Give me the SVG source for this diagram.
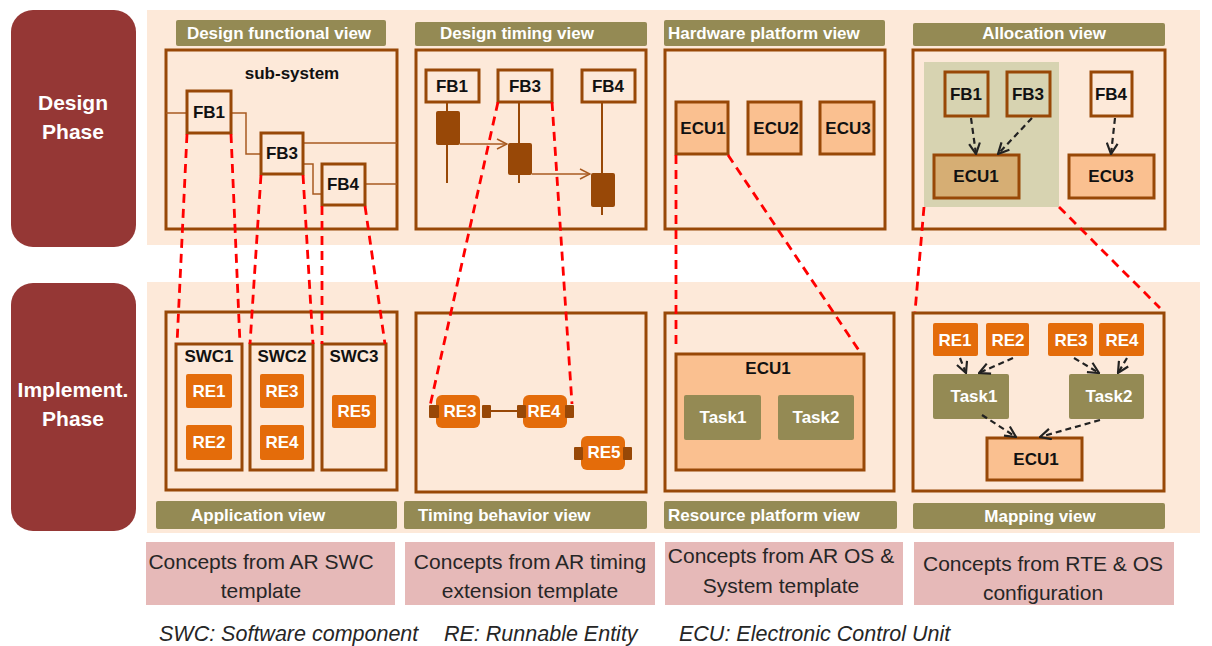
<svg xmlns="http://www.w3.org/2000/svg" width="1212" height="646" viewBox="0 0 1212 646">
<defs>
<style>
text{font-family:"Liberation Sans",Arial,sans-serif}
.phase{fill:#953735}
.phtxt{fill:#fff;font-weight:bold;font-size:21px;text-anchor:middle}
.band{fill:#FDE9D9}
.bar{fill:#948A54}
.bartxt{fill:#fff;font-weight:bold;font-size:17px}
.panel{fill:none;stroke:#984807;stroke-width:3}
.box{fill:#FDE9D9;stroke:#984807;stroke-width:3}
.ecu{fill:#FAC090;stroke:#984807;stroke-width:3}
.re{fill:#E46C0A}
.task{fill:#948A54}
.port{fill:#984807}
.bk{fill:#111;font-weight:bold;font-size:17px;text-anchor:middle}
.wt{fill:#fff;font-weight:bold;font-size:17px;text-anchor:middle}
.wire{fill:none;stroke:#A85A20;stroke-width:1.5}
.red{stroke:#FF0000;stroke-width:2.8;stroke-dasharray:9 6;fill:none}
.blk{stroke:#222;stroke-width:2.2;stroke-dasharray:6 4;fill:none;marker-end:url(#open)}
.concept{fill:#E6B9B8}
.ctxt{fill:#262626;font-size:21px;text-anchor:middle}
.legend{fill:#262626;font-size:21.5px;font-style:italic}
</style>
<marker id="open" viewBox="0 0 12 12" refX="11" refY="6" markerWidth="13" markerHeight="13" markerUnits="userSpaceOnUse" orient="auto">
<path d="M1,1 L11,6 L1,11" fill="none" stroke="#222" stroke-width="2"/>
</marker>
<marker id="msg" viewBox="0 0 12 12" refX="11" refY="6" markerWidth="12" markerHeight="12" markerUnits="userSpaceOnUse" orient="auto">
<path d="M1,1 L11,6 L1,11" fill="none" stroke="#A85A20" stroke-width="1.5"/>
</marker>
</defs>
<rect width="1212" height="646" fill="#fff"/>

<g id="phase-design">
<rect class="phase" x="11" y="10" width="125" height="237" rx="22"/>
<text class="phtxt" x="73" y="110">Design</text>
<text class="phtxt" x="73" y="139">Phase</text>
</g>
<g id="phase-implement">
<rect class="phase" x="11" y="283" width="125" height="248" rx="22"/>
<text class="phtxt" x="73" y="397">Implement.</text>
<text class="phtxt" x="73" y="426">Phase</text>
</g>

<rect class="band" x="147" y="10" width="1053" height="235"/>
<rect class="band" x="147" y="282" width="1053" height="251"/>

<!-- Design functional view -->
<g id="design-functional-view">
<rect class="bar" x="176" y="20" width="210" height="26" rx="2"/>
<text class="bartxt" x="279" y="39" text-anchor="middle">Design functional view</text>
<rect class="panel" x="166" y="50" width="231" height="179"/>
<text class="bk" x="292" y="79">sub-system</text>
<path class="wire" d="M166,113 H187 M231,113 H246 V154 H261 M303,143 H397 M303,164 H313 V194 H322 M365,184 H397"/>
<g id="f-fb1"><rect class="box" x="187" y="91" width="44" height="42"/><text class="bk" x="209" y="118">FB1</text></g>
<g id="f-fb3"><rect class="box" x="261" y="133" width="42" height="41"/><text class="bk" x="282" y="159">FB3</text></g>
<g id="f-fb4"><rect class="box" x="322" y="164" width="43" height="41"/><text class="bk" x="343" y="190">FB4</text></g>
</g>

<!-- Design timing view -->
<g id="design-timing-view">
<rect class="bar" x="415" y="22" width="232" height="24" rx="2"/>
<text class="bartxt" x="440" y="39">Design timing view</text>
<rect class="panel" x="416" y="50" width="230" height="179"/>
<g stroke="#984807" stroke-width="2">
<line x1="447" y1="102" x2="447" y2="183"/>
<line x1="519" y1="102" x2="519" y2="183"/>
<line x1="602" y1="102" x2="602" y2="215"/>
</g>
<rect class="port" x="436" y="111" width="24" height="34" rx="2"/>
<rect class="port" x="508" y="143" width="24" height="32" rx="2"/>
<rect class="port" x="591" y="173" width="24" height="34" rx="2"/>
<line x1="460" y1="144" x2="507" y2="144" stroke="#A85A20" stroke-width="1.5" marker-end="url(#msg)"/>
<line x1="532" y1="174" x2="590" y2="174" stroke="#A85A20" stroke-width="1.5" marker-end="url(#msg)"/>
<g id="t-fb1"><rect class="box" x="426" y="70" width="53" height="32"/><text class="bk" x="452" y="92">FB1</text></g>
<g id="t-fb3"><rect class="box" x="498" y="70" width="54" height="32"/><text class="bk" x="525" y="92">FB3</text></g>
<g id="t-fb4"><rect class="box" x="582" y="70" width="53" height="32"/><text class="bk" x="608" y="92">FB4</text></g>
</g>

<!-- Hardware platform view -->
<g id="hardware-platform-view">
<rect class="bar" x="664" y="20" width="221" height="26" rx="2"/>
<text class="bartxt" x="668" y="39">Hardware platform view</text>
<rect class="panel" x="665" y="50" width="220" height="179"/>
<g id="h-ecu1"><rect class="ecu" x="676" y="102" width="52" height="52"/><text class="bk" x="703" y="134">ECU1</text></g>
<g id="h-ecu2"><rect class="ecu" x="748" y="102" width="53" height="52"/><text class="bk" x="776" y="134">ECU2</text></g>
<g id="h-ecu3"><rect class="ecu" x="820" y="102" width="54" height="52"/><text class="bk" x="848" y="134">ECU3</text></g>
</g>

<!-- Allocation view -->
<g id="allocation-view">
<rect class="bar" x="913" y="23" width="252" height="23" rx="2"/>
<text class="bartxt" x="1044" y="39" text-anchor="middle">Allocation view</text>
<rect class="panel" x="913" y="50" width="252" height="179"/>
<rect x="924" y="62" width="135" height="145" fill="#D7D3B1"/>
<g id="a-fb1"><rect x="945" y="72" width="43" height="44" fill="#D7D3B1" stroke="#984807" stroke-width="3"/><text class="bk" x="966" y="100">FB1</text></g>
<g id="a-fb3"><rect x="1007" y="72" width="43" height="44" fill="#D7D3B1" stroke="#984807" stroke-width="3"/><text class="bk" x="1028" y="100">FB3</text></g>
<g id="a-fb4"><rect class="box" x="1091" y="72" width="41" height="44"/><text class="bk" x="1111" y="100">FB4</text></g>
<g id="a-ecu1"><rect x="934" y="155" width="85" height="43" fill="#D6AE74" stroke="#984807" stroke-width="3"/><text class="bk" x="976" y="182">ECU1</text></g>
<g id="a-ecu3"><rect class="ecu" x="1069" y="155" width="85" height="43"/><text class="bk" x="1111" y="182">ECU3</text></g>
</g>

<!-- Application view -->
<g id="application-view">
<rect class="panel" x="166" y="312" width="231" height="178"/>
<rect class="bar" x="156" y="501" width="241" height="28" rx="2"/>
<text class="bartxt" x="191" y="521">Application view</text>
<g id="swc1"><rect class="panel" x="176" y="344" width="66" height="126"/><text class="bk" x="209" y="362">SWC1</text></g>
<g id="swc2"><rect class="panel" x="250" y="344" width="63" height="126"/><text class="bk" x="282" y="362">SWC2</text></g>
<g id="swc3"><rect class="panel" x="322" y="344" width="64" height="126"/><text class="bk" x="354" y="362">SWC3</text></g>
<g id="ap-re1"><rect class="re" x="186" y="374" width="46" height="34" rx="2"/><text class="wt" x="209" y="397">RE1</text></g>
<g id="ap-re2"><rect class="re" x="186" y="425" width="46" height="35" rx="2"/><text class="wt" x="209" y="448">RE2</text></g>
<g id="ap-re3"><rect class="re" x="260" y="374" width="44" height="34" rx="2"/><text class="wt" x="282" y="397">RE3</text></g>
<g id="ap-re4"><rect class="re" x="260" y="425" width="44" height="35" rx="2"/><text class="wt" x="282" y="448">RE4</text></g>
<g id="ap-re5"><rect class="re" x="332" y="395" width="44" height="33" rx="2"/><text class="wt" x="354" y="417">RE5</text></g>
</g>

<!-- Timing behavior view -->
<g id="timing-behavior-view">
<rect class="panel" x="416" y="313" width="230" height="179"/>
<rect class="bar" x="404" y="501" width="243" height="28" rx="2"/>
<text class="bartxt" x="418" y="521">Timing behavior view</text>
<line x1="491" y1="411" x2="518" y2="411" stroke="#984807" stroke-width="2"/>
<g id="tb-re3"><rect class="re" x="436" y="395" width="44" height="33" rx="6"/><rect class="port" x="429" y="405" width="10" height="13" rx="1"/><rect class="port" x="482" y="405" width="9" height="13" rx="1"/><text class="wt" x="460" y="417">RE3</text></g>
<g id="tb-re4"><rect class="re" x="523" y="395" width="44" height="33" rx="6"/><rect class="port" x="517" y="405" width="9" height="13" rx="1"/><rect class="port" x="565" y="405" width="9" height="13" rx="1"/><text class="wt" x="544" y="417">RE4</text></g>
<g id="tb-re5"><rect class="re" x="581" y="436" width="44" height="34" rx="6"/><rect class="port" x="574" y="447" width="9" height="13" rx="1"/><rect class="port" x="623" y="447" width="9" height="13" rx="1"/><text class="wt" x="604" y="458">RE5</text></g>
</g>

<!-- Resource platform view -->
<g id="resource-platform-view">
<rect class="panel" x="665" y="313" width="229" height="178"/>
<rect class="bar" x="664" y="501" width="233" height="28" rx="2"/>
<text class="bartxt" x="668" y="521">Resource platform view</text>
<g id="r-ecu1"><rect class="ecu" x="676" y="354" width="188" height="116"/><text class="bk" x="768" y="374">ECU1</text></g>
<g id="r-task1"><rect class="task" x="684" y="395" width="77" height="45" rx="2"/><text class="wt" x="723" y="423">Task1</text></g>
<g id="r-task2"><rect class="task" x="778" y="395" width="76" height="45" rx="2"/><text class="wt" x="816" y="423">Task2</text></g>
</g>

<!-- Mapping view -->
<g id="mapping-view">
<rect class="panel" x="913" y="313" width="251" height="178"/>
<rect class="bar" x="913" y="503" width="252" height="26" rx="2"/>
<text class="bartxt" x="1040" y="522" text-anchor="middle">Mapping view</text>
<g id="m-re1"><rect class="re" x="933" y="323" width="45" height="33" rx="2"/><text class="wt" x="955" y="346">RE1</text></g>
<g id="m-re2"><rect class="re" x="986" y="323" width="43" height="33" rx="2"/><text class="wt" x="1008" y="346">RE2</text></g>
<g id="m-re3"><rect class="re" x="1048" y="323" width="45" height="33" rx="2"/><text class="wt" x="1071" y="346">RE3</text></g>
<g id="m-re4"><rect class="re" x="1099" y="323" width="45" height="33" rx="2"/><text class="wt" x="1122" y="346">RE4</text></g>
<g id="m-task1"><rect class="task" x="933" y="374" width="76" height="45" rx="2"/><text class="wt" x="974" y="402">Task1</text></g>
<g id="m-task2"><rect class="task" x="1069" y="374" width="75" height="45" rx="2"/><text class="wt" x="1109" y="402">Task2</text></g>
<g id="m-ecu1"><rect class="ecu" x="987" y="438" width="95" height="42"/><text class="bk" x="1036" y="465">ECU1</text></g>
</g>

<!-- Connectors -->
<g id="connectors">
<line class="blk" x1="971" y1="118" x2="976" y2="154"/>
<line class="blk" x1="1032" y1="118" x2="998" y2="154"/>
<line class="blk" x1="1115" y1="118" x2="1111" y2="154"/>
<line class="blk" x1="960" y1="358" x2="966" y2="373"/>
<line class="blk" x1="1013" y1="358" x2="979" y2="373"/>
<line class="blk" x1="1074" y1="358" x2="1099" y2="373"/>
<line class="blk" x1="1127" y1="358" x2="1118" y2="373"/>
<line class="blk" x1="982" y1="415" x2="1016" y2="437"/>
<line class="blk" x1="1100" y1="420" x2="1040" y2="437"/>
<line class="red" x1="187" y1="134" x2="177" y2="344"/>
<line class="red" x1="231" y1="134" x2="240" y2="344"/>
<line class="red" x1="261" y1="175" x2="250" y2="344"/>
<line class="red" x1="303" y1="175" x2="313" y2="344"/>
<line class="red" x1="322" y1="206" x2="322" y2="344"/>
<line class="red" x1="365" y1="206" x2="385" y2="344"/>
<line class="red" x1="498" y1="102" x2="430" y2="406"/>
<line class="red" x1="552" y1="102" x2="572" y2="404"/>
<line class="red" x1="676" y1="155" x2="676" y2="349"/>
<line class="red" x1="728" y1="155" x2="860" y2="352"/>
<line class="red" x1="924" y1="207" x2="915" y2="312"/>
<line class="red" x1="1059" y1="207" x2="1160" y2="308"/>
</g>

<!-- Concepts -->
<g id="concept-swc">
<rect class="concept" x="146" y="542" width="249" height="63"/>
<text class="ctxt" x="261" y="569">Concepts from AR SWC</text>
<text class="ctxt" x="261" y="598">template</text>
</g>
<g id="concept-timing">
<rect class="concept" x="405" y="542" width="250" height="63"/>
<text class="ctxt" x="530" y="569">Concepts from AR timing</text>
<text class="ctxt" x="530" y="598">extension template</text>
</g>
<g id="concept-os">
<rect class="concept" x="665" y="542" width="238" height="63"/>
<text class="ctxt" x="781" y="563">Concepts from AR OS &amp;</text>
<text class="ctxt" x="781" y="593">System template</text>
</g>
<g id="concept-rte">
<rect class="concept" x="914" y="542" width="260" height="63"/>
<text class="ctxt" x="1043" y="571">Concepts from RTE &amp; OS</text>
<text class="ctxt" x="1043" y="600">configuration</text>
</g>

<g id="legend">
<text class="legend" x="159" y="641">SWC: Software component</text>
<text class="legend" x="444" y="641">RE: Runnable Entity</text>
<text class="legend" x="679" y="641">ECU: Electronic Control Unit</text>
</g>
</svg>
